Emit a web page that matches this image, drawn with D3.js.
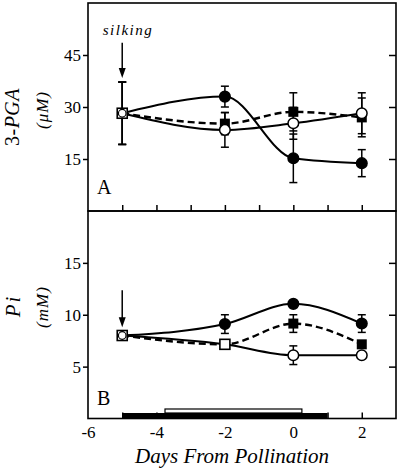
<!DOCTYPE html>
<html>
<head>
<meta charset="utf-8">
<script src="https://cdn.jsdelivr.net/npm/d3@7"></script>
<style>
  html, body { margin: 0; padding: 0; background: #fff; }
  svg { display: block; font-family: "Liberation Serif", "DejaVu Serif", serif; }
</style>
</head>
<body>
<svg id="chart" width="400" height="470"></svg>
<script>
// ---------- data ----------
const days = [-5, -2, 0, 2];

// Panel A: 3-PGA (uM)
const pgaFilledCircle = [28.2, 33.0, 15.2, 13.8];
const pgaFilledCircleErr = [9, 3, 7, 3.9];
const pgaFilledSquare = [28.2, 25.2, 28.6, 27.0];
const pgaFilledSquareErr = [9, 3.2, 5.5, 5.6];
const pgaOpenCircle = [28.2, 23.4, 25.3, 28.2];
const pgaOpenCircleErr = [9, 5, 4.6, 5.9];

// Panel B: Pi (mM)
const piFilledCircle = [8.0, 9.1, 11.05, 9.15];
const piFilledCircleErr = [0, 0.9, 0, 0.85];
const piFilledSquare = [8.0, 7.15, 9.15, 7.15];
const piFilledSquareErr = [0, 0, 0.85, 0];
const piOpenCircle = [8.0, 7.15, 6.1, 6.1];
const piOpenCircleErr = [0, 0, 0.9, 0];

// overlapping points drawn as open squares
const pgaOpenSquares = [{ x: -5, y: 28.2, inner: true }];
const piOpenSquares = [{ x: -5, y: 8.0, inner: true }, { x: -2, y: 7.15, inner: false }];

// silking arrows (data units)
const arrowA = { x: -5, y0: 48.5, y1: 38.4 };
const arrowB = { x: -5, y0: 12.35, y1: 8.8 };

// period bars under panel B
const periodBars = [
  { start: -5, end: 1, fill: "#000", kind: "black" },
  { start: -3.75, end: 0.25, fill: "#fff", kind: "open" }
];

const xTicksMinor = [-5, -4, -3, -2, -1, 0, 1, 2];
const xTickLabels = [-6, -4, -2, 0, 2];
const yTicksA = [15, 30, 45];
const yTicksB = [5, 10, 15];

// ---------- layout ----------
const svg = d3.select("#chart");
const L = 88, R = 396, topA = 3, midY = 211, botB = 418.5;

const x = d3.scaleLinear().domain([-6, 3]).range([L, R]);
const yA = d3.scaleLinear().domain([0, 60]).range([midY, topA]);
const yB = d3.scaleLinear().domain([0, 20]).range([botB, midY]);

const FONT = "Liberation Serif";

function styleAxis(g) {
  g.selectAll("path.domain").remove();
  g.selectAll("line").attr("stroke", "#000").attr("stroke-width", 1.5);
  g.selectAll("text").attr("fill", "#000").style("font-family", FONT).style("font-size", "17px");
}

function drawPanel(y, yTicks, series, openSquares, arrow, top, bottom) {
  const g = svg.append("g");

  // axes
  g.append("g").attr("transform", `translate(${L},0)`)
    .call(d3.axisLeft(y).tickValues(yTicks).tickSize(5).tickPadding(2).tickSizeOuter(0))
    .call(styleAxis);
  g.append("g").attr("transform", `translate(${R},0)`)
    .call(d3.axisRight(y).tickValues(yTicks).tickSize(-7).tickFormat("").tickSizeOuter(0))
    .call(styleAxis);
  g.append("g").attr("transform", `translate(0,${bottom})`)
    .call(d3.axisBottom(x).tickValues(xTicksMinor).tickSize(-6).tickFormat("").tickSizeOuter(0))
    .call(styleAxis);

  // frame
  g.append("rect").attr("x", L).attr("y", top).attr("width", R - L).attr("height", bottom - top)
    .attr("fill", "none").attr("stroke", "#000").attr("stroke-width", 1.6);

  // lines
  series.forEach(s => {
    const line = d3.line().x((d, i) => x(days[i])).y(d => y(d)).curve(d3.curveMonotoneX);
    g.append("path").datum(s.values).attr("d", line)
      .attr("fill", "none").attr("stroke", "#000").attr("stroke-width", s.dashed ? 2.4 : 2)
      .attr("stroke-dasharray", s.dashed ? "7,4" : null);
  });

  // error bars
  series.forEach(s => {
    s.values.forEach((v, i) => {
      const e = s.err[i];
      if (!e) return;
      const cx = x(days[i]);
      g.append("line").attr("x1", cx).attr("x2", cx).attr("y1", y(v - e)).attr("y2", y(v + e))
        .attr("stroke", "#000").attr("stroke-width", 1.5);
      [v - e, v + e].forEach(w => {
        g.append("line").attr("x1", cx - 4).attr("x2", cx + 4).attr("y1", y(w)).attr("y2", y(w))
          .attr("stroke", "#000").attr("stroke-width", 1.5);
      });
    });
  });

  // markers
  series.forEach(s => {
    s.values.forEach((v, i) => {
      if (i === 0) return; // shared start point drawn as open square
      if (s.skip && s.skip.includes(i)) return;
      const cx = x(days[i]), cy = y(v);
      if (s.marker === "square") {
        g.append("rect").attr("x", cx - 5).attr("y", cy - 5).attr("width", 10).attr("height", 10)
          .attr("fill", "#000");
      } else {
        g.append("circle").attr("cx", cx).attr("cy", cy).attr("r", 5.3)
          .attr("fill", s.marker === "open" ? "#fff" : "#000")
          .attr("stroke", "#000").attr("stroke-width", 1.5);
      }
    });
  });

  openSquares.forEach(p => {
    const cx = x(p.x), cy = y(p.y);
    g.append("rect").attr("x", cx - 5).attr("y", cy - 5).attr("width", 10).attr("height", 10)
      .attr("fill", "#fff").attr("stroke", "#000").attr("stroke-width", 1.6);
    if (p.inner) {
      g.append("circle").attr("cx", cx).attr("cy", cy).attr("r", 3.8)
        .attr("fill", "#fff").attr("stroke", "#000").attr("stroke-width", 1.2);
    }
  });

  // arrow
  const ax = x(arrow.x), ay0 = y(arrow.y0), ay1 = y(arrow.y1);
  g.append("line").attr("x1", ax).attr("x2", ax).attr("y1", ay0).attr("y2", ay1 - 8)
    .attr("stroke", "#000").attr("stroke-width", 1.5);
  g.append("path").attr("d", `M${ax - 3.5},${ay1 - 10} L${ax + 3.5},${ay1 - 10} L${ax},${ay1} Z`)
    .attr("fill", "#000");

  return g;
}

// Panel A
drawPanel(yA, yTicksA, [
  { values: pgaFilledCircle, err: pgaFilledCircleErr, marker: "filled", dashed: false },
  { values: pgaFilledSquare, err: pgaFilledSquareErr, marker: "square", dashed: true },
  { values: pgaOpenCircle, err: pgaOpenCircleErr, marker: "open", dashed: false }
], pgaOpenSquares, arrowA, topA, midY);

// Panel B
drawPanel(yB, yTicksB, [
  { values: piFilledCircle, err: piFilledCircleErr, marker: "filled", dashed: false },
  { values: piFilledSquare, err: piFilledSquareErr, marker: "square", dashed: true, skip: [1] },
  { values: piOpenCircle, err: piOpenCircleErr, marker: "open", dashed: false, skip: [1] }
], piOpenSquares, arrowB, midY, botB);

// period bars
periodBars.forEach(b => {
  if (b.kind === "black") {
    svg.append("rect").attr("x", x(b.start)).attr("y", botB - 5.5).attr("width", x(b.end) - x(b.start)).attr("height", 5.5)
      .attr("fill", b.fill);
  } else {
    svg.append("rect").attr("x", x(b.start)).attr("y", botB - 9.5).attr("width", x(b.end) - x(b.start)).attr("height", 4)
      .attr("fill", b.fill).attr("stroke", "#000").attr("stroke-width", 1.2);
  }
});

// x tick labels (bottom)
svg.append("g").attr("transform", `translate(0,${botB})`)
  .call(d3.axisBottom(x).tickValues(xTickLabels).tickSize(0).tickPadding(7.5).tickFormat(d => String(d)))
  .call(styleAxis);

// panel letters
svg.append("text").attr("x", 97).attr("y", 194).text("A")
  .style("font-family", FONT).style("font-size", "20px");
svg.append("text").attr("x", 97).attr("y", 405).text("B")
  .style("font-family", FONT).style("font-size", "20px");

// silking label
svg.append("text").attr("x", 128).attr("y", 35).attr("text-anchor", "middle")
  .style("font-family", FONT).style("font-size", "15px").style("font-style", "italic")
  .style("letter-spacing", "1.5px").text("silking");

// y titles
const tA = svg.append("text").attr("transform", "translate(19,117) rotate(-90)").attr("text-anchor", "middle")
  .style("font-family", FONT).style("font-size", "20px").style("letter-spacing", "0.5px");
tA.append("tspan").text("3-");
tA.append("tspan").style("font-style", "italic").text("PGA");

svg.append("text").attr("transform", "translate(48,110) rotate(-90)").attr("text-anchor", "middle")
  .style("font-family", FONT).style("font-size", "17px").style("font-style", "italic")
  .style("letter-spacing", "1px").text("(μM)");

svg.append("text").attr("transform", "translate(20,306) rotate(-90)").attr("text-anchor", "middle")
  .style("font-family", FONT).style("font-size", "21px").style("font-style", "italic")
  .style("letter-spacing", "2px").text("Pi");

svg.append("text").attr("transform", "translate(48,307) rotate(-90)").attr("text-anchor", "middle")
  .style("font-family", FONT).style("font-size", "17px").style("font-style", "italic")
  .style("letter-spacing", "1px").text("(mM)");

// x title
svg.append("text").attr("x", 232).attr("y", 463).attr("text-anchor", "middle")
  .style("font-family", FONT).style("font-size", "21px").style("font-style", "italic")
  .text("Days From Pollination");
</script>
</body>
</html>
